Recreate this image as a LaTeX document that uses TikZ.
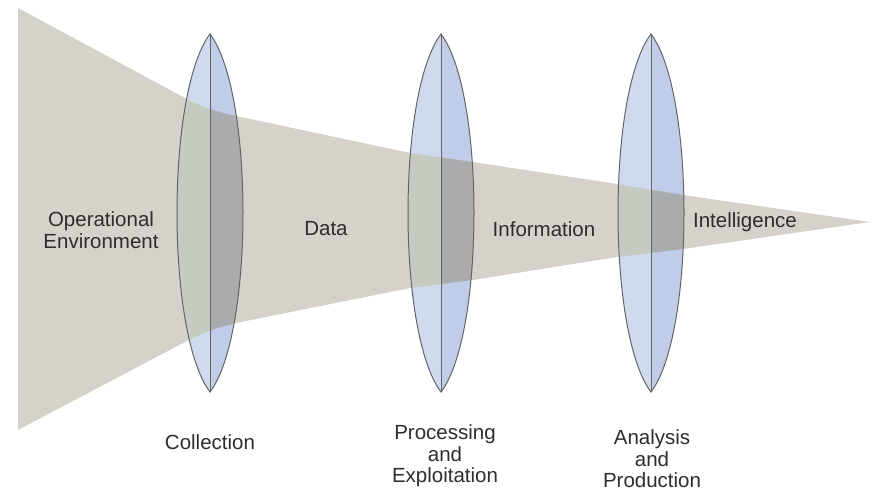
\documentclass[tikz,border=0pt]{standalone}
\usepackage{fontspec}
\setmainfont{Liberation Sans}
\definecolor{funnelc}{RGB}{214,210,203}
\definecolor{lensL}{RGB}{208,218,238}
\definecolor{lensR}{RGB}{192,205,232}
\definecolor{inL}{RGB}{198,203,194}
\definecolor{inR}{RGB}{170,171,172}
\definecolor{edgec}{RGB}{100,100,100}
\definecolor{textc}{RGB}{45,45,45}
\tikzset{
  lbl/.style={text=textc, font=\fontsize{20.5}{21.5}\selectfont, align=center, inner sep=0pt},
  lensline/.style={draw=edgec, line width=1pt}
}
\def\funnelpath{(18,8) -- (185,98) .. controls (203,108) and (222,113) .. (241,117) -- (410,153) -- (473,162) -- (617,184) -- (683,195) -- (870,222) -- (683,249) -- (617,257) -- (473,280) -- (410,288) -- (241,322) .. controls (222,326) and (203,332) .. (185,342) -- (18,430) -- cycle}
\begin{document}
\begin{tikzpicture}[x=1pt,y=-1pt]
\useasboundingbox (0,0) rectangle (876,491);
% funnel
\fill[funnelc] \funnelpath;
% lens halves outside funnel
\foreach \lx in {210,441,651}{
  \fill[lensL] (\lx,34) .. controls (\lx-44,92) and (\lx-44,334) .. (\lx,392) -- cycle;
  \fill[lensR] (\lx,34) .. controls (\lx+44,92) and (\lx+44,334) .. (\lx,392) -- cycle;
}
% lens halves inside funnel
\begin{scope}
\clip \funnelpath;
\foreach \lx in {210,441,651}{
  \fill[inL] (\lx,34) .. controls (\lx-44,92) and (\lx-44,334) .. (\lx,392) -- cycle;
  \fill[inR] (\lx,34) .. controls (\lx+44,92) and (\lx+44,334) .. (\lx,392) -- cycle;
}
\end{scope}
% lens outlines
\foreach \lx in {210,441,651}{
  \draw[lensline] (\lx,34) .. controls (\lx+44,92) and (\lx+44,334) .. (\lx,392)
                   .. controls (\lx-44,334) and (\lx-44,92) .. (\lx,34) -- cycle;
  \draw[lensline] (\lx,34) -- (\lx,392);
}
% labels
\node[lbl] (openv) at (101,230) {Operational\\Environment};
\node[lbl] (data) at (326,229) {Data};
\node[lbl] (info) at (544,229) {Information};
\node[lbl] (intel) at (745,222) {Intelligence};
\node[lbl] (coll) at (210,442) {Collection};
\node[lbl] (proc) at (445,456) {Processing\\and\\Exploitation};
\node[lbl] (anal) at (652,459) {Analysis\\and\\Production};
\end{tikzpicture}
\end{document}
